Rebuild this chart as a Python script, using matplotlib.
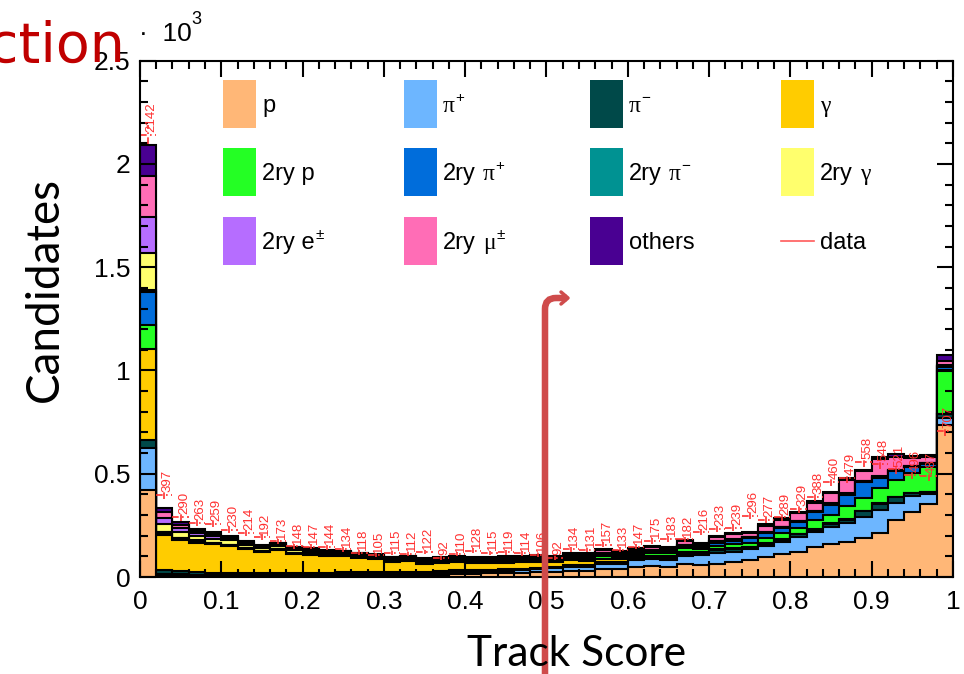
import numpy as np
import matplotlib
matplotlib.use("Agg")
import matplotlib.pyplot as plt
from matplotlib.patches import Rectangle, PathPatch
from matplotlib.path import Path
from matplotlib.ticker import MultipleLocator, FuncFormatter

plt.rcParams['font.family'] = ['Liberation Sans', 'DejaVu Sans']

# 50 bins of track score, 0..1
edges = np.linspace(0.0, 1.0, 51)

# MC truth composition per bin (candidates)
p = [419, 8, 7, 6, 6, 6, 6, 6, 6, 6, 7, 7, 8, 8, 9, 9, 10, 10, 11, 16,
     17, 18, 19, 20, 26, 26, 31, 31, 37, 37, 50, 55, 50, 63, 60, 63, 71, 82, 95, 111,
     123, 144, 160, 168, 190, 215, 276, 316, 353, 736]
pi_plus = [206, 8, 7, 6, 5, 5, 5, 5, 5, 5, 5, 6, 6, 6, 6, 7, 7, 7, 8, 9,
           9, 10, 11, 13, 11, 16, 19, 19, 26, 26, 32, 31, 32, 38, 45, 55, 52, 52, 55, 60,
           72, 75, 80, 94, 102, 109, 81, 76, 49, 32]
pi_minus = [40, 18, 15, 10, 8, 8, 8, 8, 8, 8, 8, 8, 8, 8, 8, 8, 8, 8, 8, 8,
            8, 8, 8, 8, 8, 7, 8, 8, 8, 8, 8, 8, 9, 10, 9, 13, 12, 10, 10, 9,
            11, 10, 18, 16, 27, 31, 30, 14, 9, 19]
gamma = [437, 169, 150, 145, 140, 130, 115, 100, 112, 92, 87, 82, 78, 70, 62, 50, 52, 40, 42, 40,
         34, 32, 32, 30, 28, 22, 22, 20, 18, 14, 10, 10, 9, 8, 6, 4, 4, 3, 3, 2,
         2, 2, 2, 2, 2, 2, 2, 2, 2, 2]
sec_p = [116, 4, 3, 3, 2, 2, 2, 2, 2, 2, 2, 2, 2, 2, 2, 3, 3, 3, 3, 4,
         4, 4, 4, 5, 6, 6, 8, 9, 12, 10, 13, 14, 14, 20, 14, 15, 21, 19, 24, 29,
         28, 45, 40, 65, 60, 72, 81, 94, 121, 210]
sec_pi_plus = [162, 10, 6, 5, 4, 4, 3, 3, 3, 3, 3, 3, 3, 3, 3, 3, 3, 3, 3, 4,
               4, 4, 4, 4, 5, 5, 6, 7, 8, 7, 6, 8, 9, 10, 9, 17, 16, 23, 25, 26,
               29, 37, 50, 53, 78, 51, 42, 29, 13, 20]
sec_pi_minus = [10, 3, 2, 2, 2, 2, 2, 2, 2, 2, 2, 2, 2, 2, 2, 2, 2, 2, 2, 2,
                2, 2, 2, 2, 2, 2, 2, 2, 2, 2, 2, 2, 2, 3, 2, 3, 3, 3, 3, 3,
                3, 3, 3, 3, 3, 3, 3, 3, 3, 3]
sec_gamma = [181, 37, 27, 24, 19, 20, 14, 14, 12, 14, 12, 10, 10, 8, 8, 7, 8, 7, 7, 7,
             6, 6, 6, 6, 5, 4, 4, 4, 4, 3, 3, 3, 3, 3, 3, 2, 2, 2, 2, 2,
             2, 2, 2, 2, 2, 2, 2, 2, 2, 2]
sec_e = [170, 27, 21, 12, 12, 10, 8, 7, 9, 7, 6, 5, 5, 5, 4, 4, 4, 4, 4, 4,
         4, 4, 4, 3, 3, 3, 3, 3, 3, 3, 2, 2, 2, 2, 2, 2, 2, 2, 2, 2,
         2, 2, 2, 2, 2, 2, 2, 2, 2, 2]
sec_mu = [202, 32, 16, 12, 10, 8, 5, 4, 4, 4, 4, 3, 3, 3, 3, 2, 3, 3, 4, 5,
          6, 6, 7, 7, 8, 5, 10, 10, 11, 10, 9, 12, 10, 17, 11, 21, 25, 15, 28, 32,
          39, 37, 48, 66, 49, 83, 60, 37, 29, 21]
others = [149, 16, 11, 8, 8, 6, 4, 4, 4, 4, 3, 3, 3, 3, 3, 3, 3, 3, 3, 4,
          4, 4, 4, 4, 5, 4, 5, 5, 5, 5, 4, 5, 4, 4, 4, 5, 7, 7, 10, 8,
          5, 11, 8, 8, 5, 13, 15, 11, 8, 28]

data = [2142, 397, 290, 263, 259, 230, 214, 192, 173, 148,
        147, 144, 134, 118, 105, 115, 112, 122, 92, 110,
        128, 115, 119, 114, 106, 92, 134, 131, 157, 133,
        147, 175, 183, 182, 216, 233, 239, 296, 277, 289,
        329, 388, 460, 479, 558, 548, 521, 496, 487, 707]

# stacking order, bottom to top
layers = [p, pi_plus, pi_minus, gamma, sec_p, sec_pi_plus, sec_pi_minus,
          sec_gamma, sec_e, sec_mu, others]
colors = ["#FFB777", "#6DB6FF", "#004949", "#FFCC00", "#24FF24", "#006DDB",
          "#009292", "#FFFF6D", "#B66DFF", "#FF6DB6", "#490092"]
red = "#FF3030"

fig = plt.figure(figsize=(9.64, 6.74), dpi=100)
ax = fig.add_axes([0.1452, 0.1439, 0.8434, 0.7660])

stack = np.cumsum(np.array(layers, dtype=float), axis=0)
for i in reversed(range(len(layers))):
    ax.stairs(stack[i], edges, baseline=0, fill=True, color=colors[i], lw=0)
    ax.stairs(stack[i], edges, baseline=0, color="black", lw=1.5)

# data with statistical errors and printed counts
vals = np.array(data, dtype=float)
centers = 0.5 * (edges[:-1] + edges[1:])
err = np.sqrt(vals)
dash = (0, (4, 2, 1, 2))
ax.hlines(vals, edges[:-1], edges[1:], colors=red, linestyles=dash, lw=1.2)
ax.vlines(centers, vals - err, vals + err, colors=red, linestyles=dash, lw=1.2)
for x, v in zip(centers, data):
    ax.annotate(str(v), (x, v), xytext=(2.5, 2), textcoords="offset points",
                rotation=90, ha="center", va="bottom", color=red, fontsize=9.5)

ax.set_xlim(0, 1)
ax.set_ylim(0, 2500)
ax.xaxis.set_major_locator(MultipleLocator(0.1))
ax.xaxis.set_minor_locator(MultipleLocator(0.02))
ax.yaxis.set_major_locator(MultipleLocator(500))
ax.yaxis.set_minor_locator(MultipleLocator(100))
ax.xaxis.set_major_formatter(FuncFormatter(lambda v, _: f"{v:g}"))
ax.yaxis.set_major_formatter(FuncFormatter(lambda v, _: f"{v / 1000:g}"))
ax.tick_params(which="both", direction="in", top=True, right=True, width=1.5)
ax.tick_params(which="major", length=11.5, labelsize=19)
ax.tick_params(axis="x", which="major", pad=9)
ax.tick_params(axis="y", which="major", pad=7)
ax.tick_params(which="minor", length=6)
for s in ax.spines.values():
    s.set_linewidth(1.5)

# overlay in pixel coordinates for legend, titles and annotations
ov = fig.add_axes([0, 0, 1, 1])
ov.set_xlim(0, 964)
ov.set_ylim(674, 0)
ov.axis("off")
ov.patch.set_alpha(0)

ov.text(139, 41, "·  10", fontsize=19, va="baseline", ha="left")
ov.text(191, 24, "3", fontsize=13, va="baseline", ha="left")

ov.text(45, 290, "Candidates", rotation=90, ha="center", va="center",
        fontsize=33, family="Lato")
ov.text(577, 654, "Track Score", ha="center", va="center",
        fontsize=30.5, family="Lato")

sans = ['Liberation Sans', 'DejaVu Sans']
serif = ['Liberation Serif', 'DejaVu Serif']
SUP = "sup"
entries = [
    [("p", sans)],
    [("π", serif), ("+", SUP)],
    [("π", serif), ("−", SUP)],
    [("γ", serif)],
    [("2ry p", sans)],
    [("2ry", sans), (" ", None), ("π", serif), ("+", SUP)],
    [("2ry", sans), (" ", None), ("π", serif), ("−", SUP)],
    [("2ry", sans), (" ", None), ("γ", serif)],
    [("2ry e", sans), ("±", SUP)],
    [("2ry", sans), (" ", None), ("μ", serif), ("±", SUP)],
    [("others", sans)],
    [("data", sans)],
]
col_x = [223, 404, 590, 781]
row_y = [104, 172, 241]
for k, segs in enumerate(entries):
    r, c = divmod(k, 4)
    x0, yc = col_x[c], row_y[r]
    if k < len(colors):
        ov.add_patch(Rectangle((x0, yc - 24), 33, 48, facecolor=colors[k], lw=0))
    else:
        ov.plot([x0, x0 + 33], [yc, yc], color="#FF5A5A", lw=1.2)
    prev = ov.text(x0 + 39, yc + 8, "", fontsize=17, va="baseline")
    gap = 0
    for txt, fam in segs:
        if fam is None:
            gap += 5
            continue
        if fam == SUP:
            prev = ov.annotate(txt, xy=(1, yc + 8), xycoords=(prev, "data"),
                               xytext=(gap + 0.5, 7), textcoords="offset points",
                               va="baseline", fontsize=11, family=sans)
        else:
            prev = ov.annotate(txt, xy=(1, yc + 8), xycoords=(prev, "data"),
                               xytext=(gap, 0), textcoords="offset points",
                               va="baseline", fontsize=17, family=fam)
        gap = 0

# hand-drawn pointer
arrow_col = "#CF4B4B"
verts = [(545, 690), (545, 309), (545, 298), (556, 298), (567, 298)]
codes = [Path.MOVETO, Path.LINETO, Path.CURVE3, Path.CURVE3, Path.LINETO]
ov.add_patch(PathPatch(Path(verts, codes), fill=False, edgecolor=arrow_col,
                       lw=4.7, capstyle="butt"))
ov.plot([561, 568, 561], [292, 298, 304], color=arrow_col, lw=2.5,
        solid_capstyle="round")

ov.text(-12, 62, "ction", fontsize=40, color="#C00000", va="baseline",
        ha="left", family="DejaVu Sans")

fig.savefig("out.png", dpi=100)
